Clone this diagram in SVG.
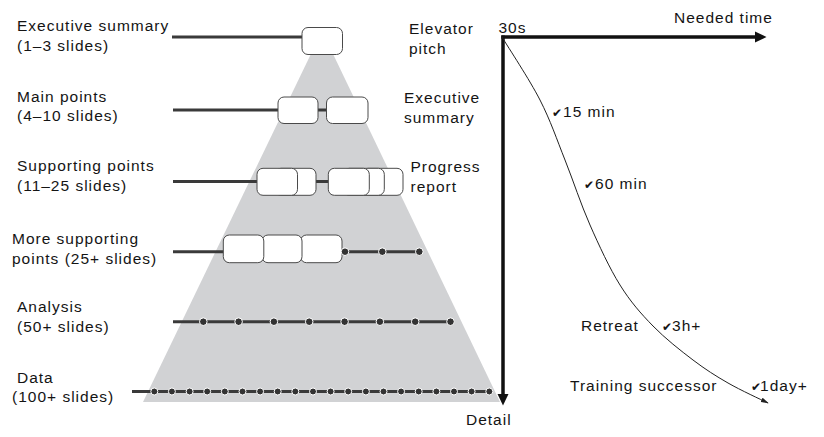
<svg xmlns="http://www.w3.org/2000/svg" width="824" height="437" viewBox="0 0 824 437">
  <style>
    .lbl { font-family: "Liberation Sans", Arial, sans-serif; font-size: 15.5px; letter-spacing: 1px; fill: #141414; }
    .chk { font-family: "DejaVu Sans", sans-serif; font-size: 12px; letter-spacing: 0; }
    .row { stroke: #3a3a3a; stroke-width: 3; fill: none; }
    .box { fill: #ffffff; stroke: #4a4a4a; stroke-width: 1; }
    .dot { fill: #333333; stroke: #ffffff; stroke-width: 1; }
    .axis { stroke: #111111; stroke-width: 3.5; fill: none; }
    .curve { stroke: #222222; stroke-width: 1; fill: none; }
  </style>
  <defs>
    <marker id="tip" viewBox="0 0 10 6" refX="9" refY="3" markerWidth="8" markerHeight="5" markerUnits="userSpaceOnUse" orient="auto">
      <path d="M0,0 L10,3 L0,6 Z" fill="#222222"/>
    </marker>
  </defs>

  <rect width="824" height="437" fill="#ffffff"/>

  <!-- pyramid -->
  <polygon id="pyramid" points="322,31 500,402 143,402" fill="#d1d2d4"/>

  <!-- connectors -->
  <g id="connectors">
    <line class="row" x1="172" y1="37" x2="302" y2="37"/>
    <line class="row" x1="173" y1="110" x2="368" y2="110"/>
    <line class="row" x1="173" y1="181.5" x2="400" y2="181.5"/>
    <line class="row" x1="173" y1="251.7" x2="419" y2="251.7"/>
    <line class="row" x1="173" y1="321.7" x2="450.7" y2="321.7"/>
    <line class="row" x1="132" y1="391.5" x2="489" y2="391.5"/>
    <!-- axes -->
    <line class="axis" x1="503" y1="35.5" x2="503" y2="396"/>
    <polygon points="497.5,394 508.5,394 503,405.5" fill="#111111"/>
    <line class="axis" x1="501.3" y1="37" x2="757" y2="37"/>
    <polygon points="755,31.5 755,42.5 766.5,37" fill="#111111"/>
    <!-- needed-time curve -->
    <path class="curve" marker-end="url(#tip)" d="M502,37 C508.3,47.5 529.5,79.5 540,100 C550.5,120.5 556.7,139.2 565,160 C573.3,180.8 580.8,204.2 590,225 C599.2,245.8 609.5,268.2 620,285 C630.5,301.8 640.8,313.5 653,326 C665.2,338.5 680.5,350.5 693,360 C705.5,369.5 715.5,375.8 728,383 C740.5,390.2 761.3,399.7 768,403"/>
  </g>

  <!-- level: executive summary -->
  <g id="level-executive">
    <text class="lbl" x="17" y="30.7">Executive summary</text>
    <text class="lbl" x="17" y="50.5">(1–3 slides)</text>
    <rect class="box" x="302" y="27.5" width="40.5" height="27" rx="6"/>
    <text class="lbl" x="409" y="34">Elevator</text>
    <text class="lbl" x="409" y="53.5">pitch</text>
  </g>

  <!-- level: main points -->
  <g id="level-main">
    <text class="lbl" x="17" y="101.7">Main points</text>
    <text class="lbl" x="17" y="121.2">(4–10 slides)</text>
    <rect class="box" x="278" y="97" width="40" height="26.5" rx="6"/>
    <rect class="box" x="326.5" y="97" width="41.5" height="26.5" rx="6"/>
    <text class="lbl" x="404" y="103.3">Executive</text>
    <text class="lbl" x="404" y="123">summary</text>
  </g>

  <!-- level: supporting points -->
  <g id="level-supporting">
    <text class="lbl" x="17" y="171">Supporting points</text>
    <text class="lbl" x="17" y="190.7">(11–25 slides)</text>
    <rect class="box" x="275" y="168.3" width="41" height="27" rx="6"/>
    <rect class="box" x="257" y="168.3" width="40.5" height="27" rx="6"/>
    <rect class="box" x="362" y="168.3" width="41" height="27" rx="6"/>
    <rect class="box" x="343.3" y="168.3" width="41" height="27" rx="6"/>
    <rect class="box" x="328.3" y="168.3" width="41" height="27" rx="6"/>
    <text class="lbl" x="410.5" y="172.3">Progress</text>
    <text class="lbl" x="410.5" y="192">report</text>
  </g>

  <!-- level: more supporting points -->
  <g id="level-more">
    <text class="lbl" x="12" y="244.3">More supporting</text>
    <text class="lbl" x="12" y="263.5">points (25+ slides)</text>
    <rect class="box" x="300.5" y="235" width="41.5" height="27.7" rx="6"/>
    <rect class="box" x="262" y="235" width="40" height="27.7" rx="6"/>
    <rect class="box" x="223.3" y="235" width="40.5" height="27.7" rx="6"/>
    <circle class="dot" cx="345" cy="251.7" r="3.8"/>
    <circle class="dot" cx="382.3" cy="251.7" r="3.8"/>
    <circle class="dot" cx="419.3" cy="251.7" r="3.8"/>
  </g>

  <!-- level: analysis -->
  <g id="level-analysis">
    <text class="lbl" x="17" y="312.3">Analysis</text>
    <text class="lbl" x="17" y="331.7">(50+ slides)</text>
    <circle class="dot" cx="203.3" cy="321.7" r="3.8"/>
    <circle class="dot" cx="238.6" cy="321.7" r="3.8"/>
    <circle class="dot" cx="273.9" cy="321.7" r="3.8"/>
    <circle class="dot" cx="309.2" cy="321.7" r="3.8"/>
    <circle class="dot" cx="344.6" cy="321.7" r="3.8"/>
    <circle class="dot" cx="379.9" cy="321.7" r="3.8"/>
    <circle class="dot" cx="415.2" cy="321.7" r="3.8"/>
    <circle class="dot" cx="450.5" cy="321.7" r="3.8"/>
  </g>

  <!-- level: data -->
  <g id="level-data">
    <text class="lbl" x="17" y="382.7">Data</text>
    <text class="lbl" x="12" y="401.7">(100+ slides)</text>
    <circle class="dot" cx="154.3" cy="391.5" r="3.5"/>
    <circle class="dot" cx="171.9" cy="391.5" r="3.5"/>
    <circle class="dot" cx="189.6" cy="391.5" r="3.5"/>
    <circle class="dot" cx="207.2" cy="391.5" r="3.5"/>
    <circle class="dot" cx="224.8" cy="391.5" r="3.5"/>
    <circle class="dot" cx="242.5" cy="391.5" r="3.5"/>
    <circle class="dot" cx="260.1" cy="391.5" r="3.5"/>
    <circle class="dot" cx="277.7" cy="391.5" r="3.5"/>
    <circle class="dot" cx="295.3" cy="391.5" r="3.5"/>
    <circle class="dot" cx="313.0" cy="391.5" r="3.5"/>
    <circle class="dot" cx="330.6" cy="391.5" r="3.5"/>
    <circle class="dot" cx="348.2" cy="391.5" r="3.5"/>
    <circle class="dot" cx="365.9" cy="391.5" r="3.5"/>
    <circle class="dot" cx="383.5" cy="391.5" r="3.5"/>
    <circle class="dot" cx="401.1" cy="391.5" r="3.5"/>
    <circle class="dot" cx="418.7" cy="391.5" r="3.5"/>
    <circle class="dot" cx="436.4" cy="391.5" r="3.5"/>
    <circle class="dot" cx="454.0" cy="391.5" r="3.5"/>
    <circle class="dot" cx="471.6" cy="391.5" r="3.5"/>
    <circle class="dot" cx="489.3" cy="391.5" r="3.5"/>
  </g>

  <!-- axis labels -->
  <g id="axis-labels">
    <text class="lbl" x="674" y="23">Needed time</text>
    <text class="lbl" x="498.5" y="32.5" letter-spacing="0">30s</text>
    <text class="lbl" x="466" y="425">Detail</text>
  </g>

  <!-- time marks -->
  <g id="time-marks">
    <text class="lbl" x="552" y="116.5"><tspan class="chk">✔</tspan><tspan dx="1">15 min</tspan></text>
    <text class="lbl" x="584" y="189"><tspan class="chk">✔</tspan><tspan dx="1">60 min</tspan></text>
    <text class="lbl" x="581" y="331">Retreat</text>
    <text class="lbl" x="662" y="331"><tspan class="chk">✔</tspan><tspan dx="0">3h+</tspan></text>
    <text class="lbl" x="570" y="390.5">Training successor</text>
    <text class="lbl" x="751" y="390.5"><tspan class="chk">✔</tspan><tspan dx="-1">1day+</tspan></text>
  </g>
</svg>
